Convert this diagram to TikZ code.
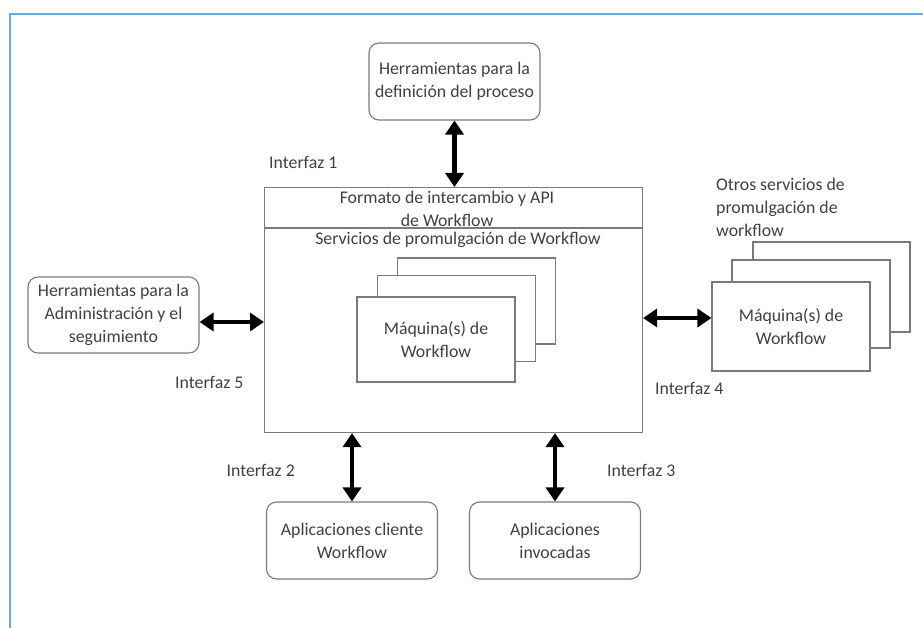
\documentclass[tikz,border=0pt]{standalone}
\usepackage{fontspec}
\setmainfont{Carlito}
\usetikzlibrary{arrows.meta}
\definecolor{txt}{HTML}{404040}
\definecolor{edge}{HTML}{7A7A7A}
\definecolor{frame}{HTML}{6FA8DC}
\begin{document}
\begin{tikzpicture}[x=1pt,y=-1pt,
  font=\fontsize{17.8}{23}\selectfont,
  rbox/.style={draw=edge,line width=1.1pt,rounded corners=10pt,text=txt,align=center,
    minimum width=171pt,minimum height=77pt,inner sep=0pt},
  sbox/.style={draw=edge,line width=1.1pt,fill=white,minimum width=158pt,minimum height=86pt,inner sep=0pt,text=txt,align=center},
  lbl/.style={text=txt,inner sep=0pt},
  dbl/.style={line width=4.4pt,{Triangle[width=18pt,length=14pt]}-{Triangle[width=18pt,length=14pt]},shorten >=0pt,shorten <=0pt}]
\useasboundingbox (0,0) rectangle (923,628);
% frame
\draw[frame,line width=2.8pt] (10,640) -- (10,14) -- (940,14);
% main box
\node[draw=edge,line width=1.1pt,minimum width=378pt,minimum height=245pt,inner sep=0pt,anchor=north west] (main) at (264,187) {};
\coordinate (sepl) at (264,228);
\coordinate (sepr) at (642,228);
\draw[edge,line width=1.1pt] (sepl) -- (sepr);
\node[lbl,align=center] (fmt) at (447,208.5) {Formato de intercambio y API\\de Workflow};
\node[lbl] (serv) at (458,240) {Servicios de promulgación de Workflow};
% inner stack
\node[sbox] (m3) at (476.5,301) {};
\node[sbox] (m2) at (456.5,318.5) {};
\node[sbox,minimum height=85pt] (m1) at (436,339.5) {Máquina(s) de\\Workflow};
% right stack
\node[sbox,minimum width=157pt,minimum height=90pt] (r3) at (831.5,287) {};
\node[sbox,minimum height=88pt] (r2) at (811,304) {};
\node[sbox,minimum height=89pt] (r1) at (791,326.5) {Máquina(s) de\\Workflow};
\node[lbl,align=left,anchor=west] (otros) at (716,207) {Otros servicios de\\promulgación de\\workflow};
% outer boxes
\node[rbox] (def) at (454.5,81.5) {Herramientas para la\\definición del proceso};
\node[rbox,minimum height=76pt] (adm) at (113.5,315) {Herramientas para la\\Administración y el\\seguimiento};
\node[rbox] (cli) at (352,540.5) {Aplicaciones cliente\\Workflow};
\node[rbox] (inv) at (555,540.5) {Aplicaciones\\invocadas};
% labels
\node[lbl,anchor=west] (i1) at (269,162) {Interfaz 1};
\node[lbl,anchor=west] (i5) at (175,382) {Interfaz 5};
\node[lbl,anchor=west] (i4) at (655,388) {Interfaz 4};
\node[lbl,anchor=east] (i2) at (295,470) {Interfaz 2};
\node[lbl,anchor=west] (i3) at (607,470) {Interfaz 3};
% arrows
\draw[dbl] (def.south) -- (def.south |- main.north);
\draw[dbl] ([yshift=-7pt]adm.east) -- ([yshift=-7pt]adm.east -| main.west);
\draw[dbl] (main.east |- 0,318) -- (r1.west |- 0,318);
\draw[dbl] (main.south -| cli.north) -- (cli.north);
\draw[dbl] (main.south -| inv.north) -- (inv.north);
\end{tikzpicture}
\end{document}
